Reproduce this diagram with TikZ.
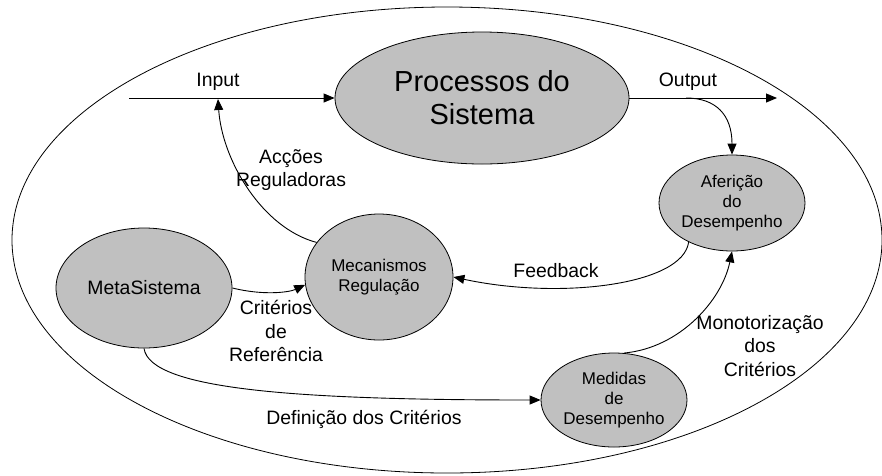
\documentclass[tikz,border=0pt]{standalone}
\usepackage{fontspec}
\setmainfont{Liberation Sans}
\usetikzlibrary{arrows.meta,shapes.geometric}
\definecolor{ellgray}{RGB}{192,192,192}
\tikzset{
  blob/.style={ellipse,draw=black,fill=ellgray,line width=0.8pt,inner sep=0pt,align=center},
  small/.style={font=\fontsize{17}{20}\selectfont},
  lbl/.style={align=center,font=\fontsize{19.4}{23.5}\selectfont,inner sep=0pt},
  arr/.style={line width=0.9pt,-{Triangle[length=11pt,width=9pt]}},
}
\begin{document}
\begin{tikzpicture}[x=1pt,y=-1pt]
\useasboundingbox (0,0) rectangle (882,475);
\draw[line width=0.8pt] (447,240) ellipse [x radius=435pt, y radius=233pt];

\node[blob,minimum width=294pt,minimum height=132pt,font=\fontsize{29}{33}\selectfont] (proc) at (482,98) {Processos do\\Sistema};
\node[blob,small,minimum width=146pt,minimum height=96pt] (aff) at (732,203) {Aferição\\do\\Desempenho};
\node[blob,small,minimum width=148pt,minimum height=126pt] (mec) at (379,277) {Mecanismos\\Regulação};
\node[blob,minimum width=176pt,minimum height=120pt,font=\fontsize{19.4}{23}\selectfont] (meta) at (144,288) {MetaSistema};
\node[blob,small,minimum width=146pt,minimum height=94pt] (med) at (614,400) {Medidas\\de\\Desempenho};

\coordinate (inStart) at (129,98);
\coordinate (inPt) at (218,99);
\coordinate (outEnd) at (777,98);
\coordinate (outPt) at (686,98);

\draw[arr] (inStart) -- (proc.west);
\draw[arr] (proc.east) -- (outEnd);
\draw[arr] (outPt) .. controls (716,98) and (732,115) .. (aff.north);
\draw[arr] (mec.151) .. controls (262,228) and (222,160) .. (inPt);
\draw[arr] (aff.222) .. controls (683,285) and (560,300) .. (mec.east);
\draw[arr] (meta.east) .. controls (265,296) and (290,292) .. (mec.186);
\draw[arr] (med.78) .. controls (680,348) and (722,300) .. (aff.south);
\draw[arr] (meta.south) .. controls (150,390) and (300,400) .. (med.west);

\node[lbl] (lin) at (218,82) {Input};
\node[lbl] (lout) at (688,82) {Output};
\node[lbl] (lacc) at (291,170) {Acções\\Reguladoras};
\node[lbl] (lfb) at (556,271) {Feedback};
\node[lbl] (lcr) at (276,331) {Critérios\\de\\Referência};
\node[lbl] (lmon) at (760,346) {Monotorização\\dos\\Critérios};
\node[lbl] (ldef) at (364,419) {Definição dos Critérios};
\end{tikzpicture}
\end{document}
